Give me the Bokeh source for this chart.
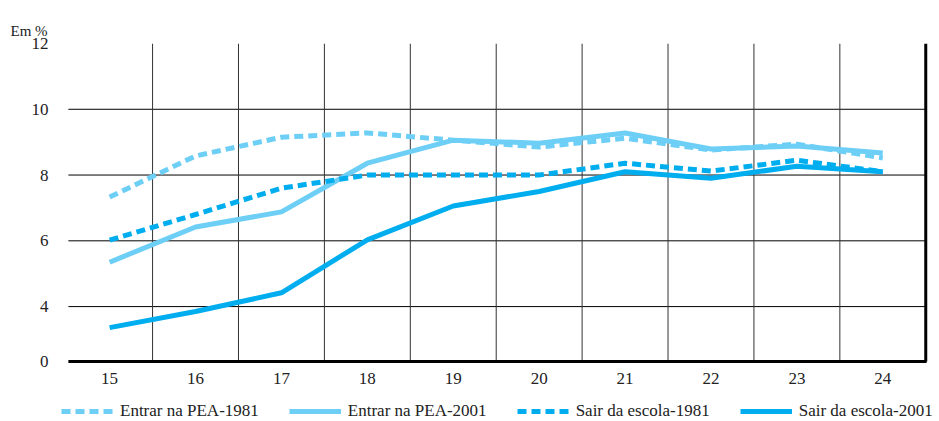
from bokeh.plotting import figure
from bokeh.models import Legend, LegendItem, FixedTicker, CustomJSTickFormatter, Range1d
from bokeh.embed import file_html
from bokeh.resources import INLINE

ages = [15, 16, 17, 18, 19, 20, 21, 22, 23, 24]
age_labels = [str(a) for a in ages]
entrar_pea_1981 = [7.33, 8.58, 9.15, 9.28, 9.06, 8.85, 9.12, 8.76, 8.94, 8.52]
entrar_pea_2001 = [5.35, 6.42, 6.88, 8.36, 9.06, 8.97, 9.28, 8.79, 8.88, 8.67]
sair_escola_1981 = [6.02, 6.80, 7.60, 8.00, 8.00, 8.00, 8.36, 8.12, 8.45, 8.10]
sair_escola_2001 = [3.36, 3.85, 4.42, 6.03, 7.06, 7.50, 8.10, 7.90, 8.27, 8.10]
series_names = ["Entrar na PEA-1981", "Entrar na PEA-2001", "Sair da escola-1981", "Sair da escola-2001"]
y_ticks = [2.33, 4, 6, 8, 10, 12]
y_grid_values = [4, 6, 8, 10]

FONT = "Liberation Serif"
LIGHT = "#6dcff6"
DARK = "#00aeef"

# plot-area geometry (axis break: the "0" baseline sits at 2.33 on the linear scale)
Y_BASE = 2.33
Y_TOP = 12
X_LEFT = 14.52
X_RIGHT = 24.5

p = figure(frame_width=884, frame_height=377, output_backend="svg", toolbar_location=None,
           x_range=Range1d(14.37, 24.66), y_range=Range1d(0.536, 12),
           min_border_left=55, min_border_right=0, min_border_top=43, min_border_bottom=0)
p.outline_line_color = None
p.xaxis.visible = False
p.xgrid.visible = False
p.ygrid.visible = False

p.title.text = "Em %"
p.title.align = "left"
p.title.offset = -45
p.title.text_font = FONT
p.title.text_font_size = "15px"
p.title.text_font_style = "normal"
p.title.text_color = "#222222"

p.yaxis.ticker = FixedTicker(ticks=y_ticks)
p.yaxis.formatter = CustomJSTickFormatter(code="return tick < 3 ? '0' : tick.toFixed(0);")
p.yaxis.axis_line_color = None
p.yaxis.major_tick_line_color = None
p.yaxis.minor_tick_line_color = None
p.yaxis.major_tick_out = 0
p.yaxis.minor_tick_out = 0
p.yaxis.major_label_standoff = 7
p.yaxis.major_label_text_font = FONT
p.yaxis.major_label_text_font_size = "17px"
p.yaxis.major_label_text_color = "#222222"

# horizontal grid lines
p.segment(x0=[X_LEFT] * len(y_grid_values), y0=y_grid_values,
          x1=[X_RIGHT] * len(y_grid_values), y1=y_grid_values,
          line_color="#000000", line_width=1)
# vertical grid lines between categories
vx = [a + 0.5 for a in ages[:-1]]
p.segment(x0=vx, y0=[Y_BASE] * len(vx), x1=vx, y1=[Y_TOP] * len(vx),
          line_color="#333333", line_width=1)
# right border and bottom axis line
p.segment(x0=[X_RIGHT], y0=[Y_BASE], x1=[X_RIGHT], y1=[Y_TOP], line_color="#000000", line_width=3)
p.segment(x0=[X_LEFT], y0=[Y_BASE], x1=[X_RIGHT + 0.01], y1=[Y_BASE], line_color="#000000", line_width=3)

# x tick labels
p.text(x=ages, y=[Y_BASE] * len(ages), text=age_labels, y_offset=17,
       text_align="center", text_baseline="middle",
       text_font_size="17px", text_color="#222222", text_font={"value": FONT})

r1 = p.line(ages, entrar_pea_1981, line_color=LIGHT, line_width=5, line_dash="9 5")
r2 = p.line(ages, entrar_pea_2001, line_color=LIGHT, line_width=5)
r3 = p.line(ages, sair_escola_1981, line_color=DARK, line_width=5, line_dash="9 5")
r4 = p.line(ages, sair_escola_2001, line_color=DARK, line_width=5)

legend = Legend(items=[LegendItem(label=n, renderers=[r]) for n, r in zip(series_names, [r1, r2, r3, r4])],
                orientation="horizontal", location=(6, -1),
                glyph_width=52, glyph_height=10, label_height=16, label_standoff=7, spacing=30,
                padding=0, margin=0, border_line_color=None, background_fill_alpha=0,
                label_text_font=FONT, label_text_font_size="17px", label_text_color="#222222")
p.add_layout(legend, "center")

open("out.html", "w").write(file_html(p, INLINE))
